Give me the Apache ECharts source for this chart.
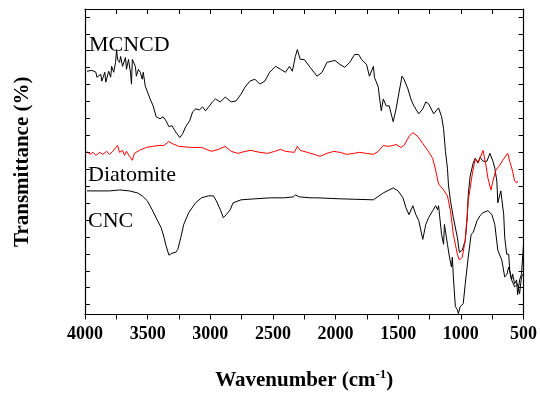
<!DOCTYPE html>
<html>
<head>
<meta charset="utf-8">
<script src="https://cdn.jsdelivr.net/npm/echarts@6/dist/echarts.min.js"></script>
<style>
  html, body { margin: 0; padding: 0; background: #fff; }
  #chart { width: 540px; height: 396px; }
</style>
</head>
<body>
<div id="chart"></div>
<script>
// Wavenumber (cm-1) and transmittance (arbitrary %, offset traces)
const mcncdWn = [3984,3945,3913,3905,3874,3866,3842,3834,3811,3795,3787,3771,3756,3748,3740,3724,3716,3700,3677,3669,3653,3637,3629,3622,3598,3590,3574,3559,3543,3535,3519,3495,3480,3456,3432,3401,3377,3354,3330,3306,3283,3267,3243,3220,3196,3164,3141,3117,3086,3062,3038,3007,2983,
  2959,2920,2881,2833,2794,2754,2723,2684,2644,2605,2565,2526,2479,2439,2400,2368,2345,2321,2305,2282,2250,2203,2148,2108,2069,2006,1966,1927,1887,1848,1816,1793,1753,1730,1698,1690,1659,1651,1635,1619,1596,1572,1540,1517,1493,1470,1454,1422,1399,1375,1336,1304,1280,1257,1217,1178,1154,1138,1123,1107,1099,1083,1060,1028,1012,989,965,949,941,926,902,886,863,847,823,792,768,744,729,713,705,681,666,658,650,634,618,610,595,587,571,555,547,531,516,500];
const mcncdT = [73.8,74.1,73.5,72.0,72.9,70.8,73.5,70.5,73.8,72.0,75.3,73.5,76.5,80.4,77.4,76.5,78.3,75.3,78.0,74.4,77.4,73.5,69.9,77.4,75.3,72.3,74.4,73.5,71.4,73.5,69.3,66.9,65.4,63.3,60.0,59.4,60.0,58.8,57.0,57.3,55.8,54.9,53.7,54.9,57.0,58.8,61.5,62.4,62.1,63.0,61.8,63.3,64.5,
  65.4,64.5,66.0,64.5,64.8,66.9,69.0,70.8,71.4,69.9,70.8,73.5,75.3,74.4,73.5,75.3,73.8,78.3,80.4,77.4,77.4,75.0,72.3,73.5,76.5,77.1,75.9,75.0,76.5,78.9,78.9,77.4,75.9,72.3,75.3,72.0,69.0,66.3,61.8,65.4,63.3,63.3,58.5,62.4,67.5,72.3,71.4,68.4,65.4,63.3,60.9,62.4,64.5,63.9,60.9,62.7,60.0,56.4,49.5,44.4,39.3,34.5,29.4,23.4,18.9,19.5,22.5,29.4,36.3,42.0,45.9,47.4,46.2,47.7,46.5,46.5,48.9,46.5,44.4,40.5,33.9,37.5,36.9,30.3,23.4,18.3,18.3,13.5,10.5,12.3,9.3,10.5,6.0,10.5,12.3,21.3];

const diatomiteWn = [3984,3961,3937,3913,3882,3858,3827,3803,3779,3740,3724,3700,3685,3669,3645,3622,3606,3566,3511,3464,3409,3369,3330,3306,3251,3149,3070,2991,2936,2881,2833,2778,2723,2676,2605,2542,2487,2439,2400,2329,2305,2282,2226,2171,2124,2069,2014,1966,1911,1856,1809,1753,1698,1659,1619,1580,1540,1517,1477,1454,1414,1383,1343,1304,1265,1225,1201,1178,1138,1107,1083,1060,1028,1012,989,965,941,910,886,863,823,800,784,760,744,721,689,666,626,610,587,571,555,547];
const diatomiteT = [49.5,48.6,49.2,48.3,49.2,48.6,49.5,48.6,49.5,51.3,49.2,49.8,48.3,49.5,48.0,46.8,48.9,49.8,50.7,51.0,51.3,51.3,52.5,51.9,51.0,50.7,50.7,49.5,50.1,51.0,49.5,48.9,49.5,49.8,49.2,48.9,49.5,50.1,49.5,49.2,51.0,49.8,49.2,48.6,48.0,48.9,49.5,49.2,48.6,48.9,49.2,48.9,48.6,49.5,51.3,51.0,51.3,51.6,50.7,51.3,54.0,55.2,54.0,51.9,49.8,47.4,43.8,39.6,37.8,36.0,31.5,24.3,18.3,16.5,17.4,22.5,34.5,42.3,47.1,45.9,49.8,45.3,41.4,37.8,40.5,43.8,45.3,46.8,48.9,46.5,43.5,40.5,39.9,40.5];

const cncWn = [3984,3905,3803,3724,3645,3582,3543,3503,3464,3425,3393,3369,3354,3330,3306,3275,3259,3235,3212,3172,3117,3070,3015,2975,2952,2920,2896,2873,2841,2818,2754,2644,2518,2408,2337,2321,2289,2203,2148,1966,1698,1619,1540,1501,1462,1438,1414,1383,1359,1336,1304,1280,1257,1225,1201,1186,1178,1154,1138,1131,1107,1091,1075,1068,1060,1044,1028,1020,1005,981,965,941,918,902,870,847,823,784,752,729,705,673,650,634,618,595,571,547,531,516,500];
const cncT = [37.5,37.5,37.5,37.8,37.5,36.9,36.0,34.5,31.8,28.8,26.4,23.4,21.0,18.0,18.6,18.9,19.8,23.4,27.3,30.9,33.9,35.4,36.0,36.0,34.5,31.8,29.4,30.3,31.8,33.9,34.8,35.1,35.4,35.4,35.7,36.3,35.7,35.4,35.4,35.1,34.8,36.9,38.4,37.5,35.4,32.4,30.3,33.0,30.3,28.5,22.8,27.3,29.4,31.5,33.0,31.8,33.0,24.3,21.3,27.3,21.3,17.4,14.4,17.4,11.4,2.4,1.5,0.3,2.4,3.3,9.3,17.4,24.3,24.9,28.5,30.0,30.9,31.5,30.3,27.3,19.5,16.5,11.4,12.0,14.4,10.5,8.4,9.3,6.3,11.4,12.3];

const seriesNames = ['MCNCD', 'Diatomite', 'CNC'];
const xTickLabels = [4000, 3500, 3000, 2500, 2000, 1500, 1000, 500];
const yTickValues = [3, 8.14, 13.27, 18.41, 23.54, 28.68, 33.82, 38.95, 44.09, 49.22, 54.36, 59.5, 64.63, 69.77, 74.9, 80.04, 85.18, 90.31];

function pairs(xs, ys) { return xs.map((x, i) => [x, ys[i]]); }

const serif = '"Liberation Serif", "Times New Roman", serif';
const chart = echarts.init(document.getElementById('chart'), null, { renderer: 'canvas' });

const frameLine = { show: true, onZero: false, lineStyle: { color: '#000', width: 1.2 } };

chart.setOption({
  animation: false,
  backgroundColor: '#fff',
  grid: { left: 85, top: 9, width: 444, height: 309, containLabel: false },
  xAxis: [
    {
      type: 'value', position: 'bottom', inverse: true,
      min: xTickLabels[xTickLabels.length - 1], max: xTickLabels[0], interval: 500,
      axisLine: frameLine,
      axisTick: { show: true, inside: false, length: 5, lineStyle: { color: '#000', width: 1 } },
      minorTick: { show: true, splitNumber: 2, length: 5, lineStyle: { color: '#000', width: 1 } },
      axisLabel: { fontFamily: serif, fontWeight: 'bold', fontSize: 18, color: '#000', margin: 11,
        formatter: v => String(v) },
      splitLine: { show: false },
      name: '{a|Wavenumber (cm}{b|-1}{a|)}',
      nameLocation: 'middle', nameGap: 54,
      nameTextStyle: {
        rich: {
          a: { fontFamily: serif, fontWeight: 'bold', fontSize: 21, color: '#000', lineHeight: 24 },
          b: { fontFamily: serif, fontWeight: 'bold', fontSize: 13, color: '#000', verticalAlign: 'top', lineHeight: 24, padding: [0, 0, 8, 0] }
        }
      }
    },
    {
      type: 'value', position: 'top', inverse: true,
      min: 500, max: 4000, interval: 250,
      axisLine: frameLine,
      axisTick: { show: true, inside: true, length: 5, lineStyle: { color: '#000', width: 1 } },
      axisLabel: { show: false },
      splitLine: { show: false }
    }
  ],
  yAxis: [
    {
      type: 'value', position: 'left', min: 0, max: 92.7,
      axisLine: frameLine,
      axisTick: { show: true, inside: true, length: 5, customValues: yTickValues, lineStyle: { color: '#000', width: 1 } },
      axisLabel: { show: false },
      splitLine: { show: false },
      name: 'Transmittance (%)',
      nameLocation: 'middle', nameRotate: 90, nameGap: 52,
      nameTextStyle: { fontFamily: serif, fontWeight: 'bold', fontSize: 21, color: '#000' }
    },
    {
      type: 'value', position: 'right', min: 0, max: 92.7,
      axisLine: frameLine,
      axisTick: { show: true, inside: true, length: 5, customValues: yTickValues, lineStyle: { color: '#000', width: 1 } },
      axisLabel: { show: false },
      splitLine: { show: false }
    }
  ],
  series: [
    { name: seriesNames[0], type: 'line', data: pairs(mcncdWn, mcncdT), showSymbol: false, symbol: 'none',
      lineStyle: { color: '#000', width: 1 }, itemStyle: { color: '#000' } },
    { name: seriesNames[2], type: 'line', data: pairs(cncWn, cncT), showSymbol: false, symbol: 'none',
      lineStyle: { color: '#000', width: 1 }, itemStyle: { color: '#000' } },
    { name: seriesNames[1], type: 'line', data: pairs(diatomiteWn, diatomiteT), showSymbol: false, symbol: 'none',
      lineStyle: { color: '#ff0000', width: 1 }, itemStyle: { color: '#ff0000' } }
  ],
  graphic: [
    { type: 'text', x: 89, y: 45, style: { text: seriesNames[0], font: '22px ' + serif, fill: '#000', textAlign: 'left', textVerticalAlign: 'middle', align: 'left', verticalAlign: 'middle' } },
    { type: 'text', x: 88, y: 175, style: { text: seriesNames[1], font: '22px ' + serif, fill: '#000', textAlign: 'left', textVerticalAlign: 'middle', align: 'left', verticalAlign: 'middle' } },
    { type: 'text', x: 88, y: 221, style: { text: seriesNames[2], font: '22px ' + serif, fill: '#000', textAlign: 'left', textVerticalAlign: 'middle', align: 'left', verticalAlign: 'middle' } }
  ]
});
</script>
</body>
</html>
